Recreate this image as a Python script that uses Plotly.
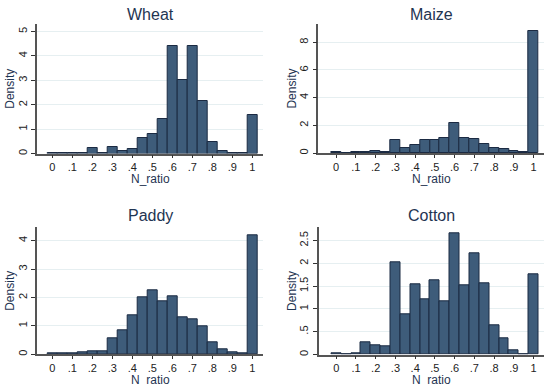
import plotly.graph_objects as go

# Bin centers (width 0.05) and densities
bin_centers = [round(i * 0.05, 2) for i in range(21)]
bin_width = 0.05

wheat = [0.02, 0.02, 0.02, 0.02, 0.22, 0.03, 0.28, 0.10, 0.20, 0.65, 0.82,
         1.40, 4.42, 3.02, 4.42, 2.15, 0.46, 0.11, 0.03, 0.03, 1.58]
maize = [0.05, 0.0, 0.05, 0.05, 0.18, 0.05, 0.93, 0.38, 0.55, 0.98, 0.98,
         1.10, 2.18, 1.10, 1.05, 0.68, 0.38, 0.30, 0.18, 0.05, 8.80]
paddy = [0.02, 0.02, 0.02, 0.06, 0.12, 0.12, 0.57, 0.85, 1.38, 2.02, 2.27,
         1.85, 2.05, 1.30, 1.23, 1.00, 0.42, 0.18, 0.06, 0.02, 4.20]
cotton = [0.02, 0.0, 0.02, 0.27, 0.21, 0.17, 2.02, 0.88, 1.54, 1.21, 1.63,
          1.17, 2.65, 1.52, 2.21, 1.56, 0.64, 0.35, 0.09, 0.01, 1.75]

titles = ["Wheat", "Maize", "Paddy", "Cotton"]
series = [wheat, maize, paddy, cotton]

x_tickvals = [0, 0.1, 0.2, 0.3, 0.4, 0.5, 0.6, 0.7, 0.8, 0.9, 1.0]
x_ticktext = ["0", ".1", ".2", ".3", ".4", ".5", ".6", ".7", ".8", ".9", "1"]

y_ticks = [
    ([0, 1, 2, 3, 4, 5], ["0", "1", "2", "3", "4", "5"]),
    ([0, 2, 4, 6, 8], ["0", "2", "4", "6", "8"]),
    ([0, 1, 2, 3, 4], ["0", "1", "2", "3", "4"]),
    ([0, 0.5, 1, 1.5, 2, 2.5], ["0", ".5", "1", "1.5", "2", "2.5"]),
]
y_tops = [5.31, 9.32, 4.47, 2.79]

W, H = 544, 386
# pixel layout: (left, right, top, bottom)
boxes = [
    (36.7, 263.3, 24.0, 153.5),
    (318.3, 544.0, 24.0, 153.1),
    (36.7, 263.3, 227.3, 354.3),
    (318.5, 544.0, 227.3, 354.5),
]
x_ranges = [[-0.078, 1.055], [-0.09, 1.053], [-0.078, 1.055], [-0.09, 1.053]]
title_y = [14, 14, 215.7, 215.7]
xlab_y = [178.5, 178.5, 379.5, 379.5]
dens_x = [10, 292, 10, 292]

FILL = "#3e5c7a"
EDGE = "#1b2a42"
NAVY = "#1f3552"
FONT = "Liberation Sans, Arial, sans-serif"

fig = go.Figure()
annotations = []
for i in range(4):
    suf = "" if i == 0 else str(i + 1)
    fig.add_trace(go.Bar(
        x=bin_centers, y=series[i], width=bin_width,
        marker=dict(color=FILL, line=dict(color=EDGE, width=1)),
        xaxis="x" + suf, yaxis="y" + suf, showlegend=False,
        hoverinfo="x+y",
    ))
    l, r, t, b = boxes[i]
    xd = [l / W, r / W]
    yd = [1 - b / H, 1 - t / H]
    fig.layout["xaxis" + suf] = dict(
        domain=xd, range=x_ranges[i], anchor="y" + suf,
        tickvals=x_tickvals, ticktext=x_ticktext,
        ticks="outside", ticklen=3, tickcolor="#333",
        ticklabelstandoff=0,
        showline=True, linecolor="#555", linewidth=1.5,
        showgrid=False, zeroline=False,
        tickfont=dict(family=FONT, size=11, color="#222"),
    )
    fig.layout["yaxis" + suf] = dict(
        domain=yd, range=[0, y_tops[i]], anchor="x" + suf,
        tickvals=y_ticks[i][0], ticktext=y_ticks[i][1],
        ticks="outside", ticklen=4, tickcolor="#333", tickangle=-90,
        showline=True, linecolor="#555", linewidth=1.5,
        showgrid=True, gridcolor="#e6eff1", gridwidth=1, zeroline=False,
        tickfont=dict(family=FONT, size=11, color="#222"),
    )
    cx = (l + r) / 2 / W
    annotations.append(dict(text=titles[i], x=cx, y=1 - title_y[i] / H,
                            xref="paper", yref="paper", showarrow=False,
                            xanchor="center", yanchor="middle",
                            font=dict(family=FONT, size=16, color=NAVY)))
    annotations.append(dict(text="N_ratio", x=cx, y=1 - xlab_y[i] / H,
                            xref="paper", yref="paper", showarrow=False,
                            xanchor="center", yanchor="middle",
                            font=dict(family=FONT, size=12, color=NAVY)))
    annotations.append(dict(text="Density", x=dens_x[i] / W,
                            y=1 - ((t + b) / 2) / H,
                            xref="paper", yref="paper", showarrow=False,
                            xanchor="center", yanchor="middle", textangle=-90,
                            font=dict(family=FONT, size=12, color=NAVY)))

fig.update_layout(
    width=W, height=H, margin=dict(l=0, r=0, t=0, b=0),
    paper_bgcolor="white", plot_bgcolor="white",
    bargap=0, annotations=annotations,
)
fig.write_html("out.html")
